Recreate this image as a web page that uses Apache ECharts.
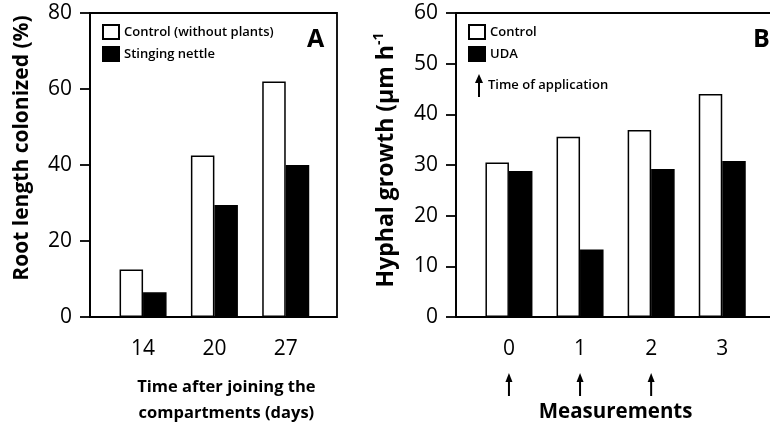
<!DOCTYPE html>
<html><head><meta charset="utf-8">
<script src="https://cdn.jsdelivr.net/npm/echarts@6/dist/echarts.min.js"></script>
<style>html,body{margin:0;padding:0;background:#fff}#c{width:770px;height:425px}</style>
</head><body><div id="c"></div>
<script>
// Panel A data
const daysCategories = ['14', '20', '27'];
const controlNoPlants = [12.5, 42.5, 62];
const stingingNettle = [6.5, 29.5, 40];
const yTicksA = [0, 20, 40, 60, 80];
// Panel B data
const measurementCategories = ['0', '1', '2', '3'];
const controlB = [30.5, 35.6, 36.9, 44];
const udaB = [28.8, 13.3, 29.2, 30.8];
const applicationTimes = ['0', '1', '2'];
const yTicksB = [0, 10, 20, 30, 40, 50, 60];

const FONT = 'Open Sans';
const chart = echarts.init(document.getElementById('c'), null, {renderer: 'canvas'});
const arrowPath = 'path://M4,0 L8,9 L5,9 L5,23 L3,23 L3,9 L0,9 Z';

const frameAxisY = (ticks, name, gap, pad, fs) => ({
  type: 'value', min: ticks[0], max: ticks[ticks.length - 1], interval: ticks[1] - ticks[0],
  axisLine: {show: true, lineStyle: {color: '#000', width: 1.8}},
  axisTick: {show: true, inside: false, length: 10, lineStyle: {color: '#000', width: 1.8}},
  axisLabel: {color: '#000', fontSize: 21, fontFamily: FONT, margin: 18},
  splitLine: {show: false},
  name: name, nameLocation: 'middle', nameGap: gap, nameRotate: 90,
  nameTextStyle: {color: '#000', fontSize: fs, fontWeight: 'bold', fontFamily: FONT, padding: pad,
    rich: {a: {fontSize: fs, fontWeight: 'bold', fontFamily: FONT, color: '#000'},
           s: {fontSize: 14, fontWeight: 'bold', fontFamily: FONT, color: '#000', verticalAlign: 'top', lineHeight: 28}}}
});
const hiddenY = (ticks) => ({type: 'value', min: ticks[0], max: ticks[ticks.length - 1], show: false});
const catX = (cats, gi, name, gap, fs, pad) => ({
  type: 'category', data: cats, gridIndex: gi,
  axisLine: {show: false}, axisTick: {show: false},
  axisLabel: {color: '#000', fontSize: 21, fontFamily: FONT, margin: 22},
  name: name, nameLocation: 'middle', nameGap: gap,
  nameTextStyle: {color: '#000', fontSize: fs, fontWeight: 'bold', fontFamily: FONT, lineHeight: 26, padding: pad}
});
const legendText = {fontSize: 13, fontWeight: 600, fontFamily: FONT, color: '#000'};

const option = {
  backgroundColor: '#fff',
  animation: false,
  title: [
    {text: 'A', left: 302, top: 22, textStyle: {fontSize: 25, fontWeight: 'bold', fontFamily: FONT, color: '#000'}},
    {text: 'B', left: 748, top: 22, textStyle: {fontSize: 25, fontWeight: 'bold', fontFamily: FONT, color: '#000'}}
  ],
  legend: [
    {orient: 'vertical', left: 102, top: 24, padding: 0, itemWidth: 16, itemHeight: 14, itemGap: 6, itemTextGap: 13,
     data: [{name: 'Control (without plants)', icon: 'rect'}, {name: 'Stinging nettle', icon: 'rect'}],
     textStyle: legendText, selectedMode: false},
    {orient: 'vertical', left: 468, top: 24, padding: 0, itemWidth: 16, itemHeight: 14, itemGap: 6, itemTextGap: 13,
     data: [{name: 'Control', icon: 'rect'}, {name: 'UDA', icon: 'rect'}],
     textStyle: legendText, selectedMode: false},
    {orient: 'vertical', left: 475, top: 74, padding: 0, itemWidth: 8, itemHeight: 23, itemTextGap: 8,
     data: [{name: 'Time of application', icon: arrowPath}],
     textStyle: legendText, selectedMode: false}
  ],
  grid: [
    {left: 90, top: 13, width: 247, height: 304, show: true, borderColor: '#000', borderWidth: 1.8, backgroundColor: 'transparent', outerBoundsMode: 'none', containLabel: false},
    {left: 107.4, top: 13, width: 214, height: 304, outerBoundsMode: 'none', containLabel: false},
    {left: 456, top: 13, width: 330, height: 304, show: true, borderColor: '#000', borderWidth: 1.8, backgroundColor: 'transparent', outerBoundsMode: 'none', containLabel: false},
    {left: 473.4, top: 13, width: 284.4, height: 304, outerBoundsMode: 'none', containLabel: false}
  ],
  xAxis: [
    {type: 'value', gridIndex: 0, show: false, min: 0, max: 1},
    catX(daysCategories, 1, 'Time after joining the\ncompartments (days)', 57, 16.5, [0, 0, 0, 24]),
    {type: 'value', gridIndex: 2, show: false, min: 0, max: 1},
    catX(measurementCategories, 3, 'Measurements', 82, 20.5, 0)
  ],
  yAxis: [
    Object.assign(frameAxisY(yTicksA, 'Root length colonized (%)', 57, [0, 0, 0, 34], 21), {gridIndex: 0}),
    Object.assign(hiddenY(yTicksA), {gridIndex: 1}),
    Object.assign(frameAxisY(yTicksB, '{a|Hyphal growth (µm h}{s|-1}', 56, [0, 0, 0, 10], 23), {gridIndex: 2}),
    Object.assign(hiddenY(yTicksB), {gridIndex: 3})
  ],
  series: [
    {name: 'Control (without plants)', type: 'bar', xAxisIndex: 1, yAxisIndex: 1, data: controlNoPlants,
     barWidth: 23.5, barGap: '0%', itemStyle: {color: '#fff', borderColor: '#000', borderWidth: 1.5}},
    {name: 'Stinging nettle', type: 'bar', xAxisIndex: 1, yAxisIndex: 1, data: stingingNettle,
     barWidth: 23.5, barGap: '0%', itemStyle: {color: '#000', borderColor: '#000', borderWidth: 1.5}},
    {name: 'Control', type: 'bar', xAxisIndex: 3, yAxisIndex: 3, data: controlB,
     barWidth: 23.5, barGap: '0%', itemStyle: {color: '#fff', borderColor: '#000', borderWidth: 1.5}},
    {name: 'UDA', type: 'bar', xAxisIndex: 3, yAxisIndex: 3, data: udaB,
     barWidth: 23.5, barGap: '0%', itemStyle: {color: '#000', borderColor: '#000', borderWidth: 1.5}},
    {name: 'Time of application', type: 'custom', xAxisIndex: 3, yAxisIndex: 3, clip: false,
     itemStyle: {color: '#000'},
     data: applicationTimes.map(c => [c, 0]),
     renderItem: function (params, api) {
       const p = api.coord([api.value(0), api.value(1)]);
       const x = p[0], y0 = p[1] + 56, y1 = p[1] + 79;
       return {type: 'group', children: [
         {type: 'line', shape: {x1: x, y1: y0 + 6, x2: x, y2: y1}, style: {stroke: '#000', lineWidth: 2}},
         {type: 'polygon', shape: {points: [[x, y0], [x - 3.5, y0 + 9], [x + 3.5, y0 + 9]]}, style: {fill: '#000'}}
       ]};
     }}
  ]
};
chart.setOption(option);
</script></body></html>
